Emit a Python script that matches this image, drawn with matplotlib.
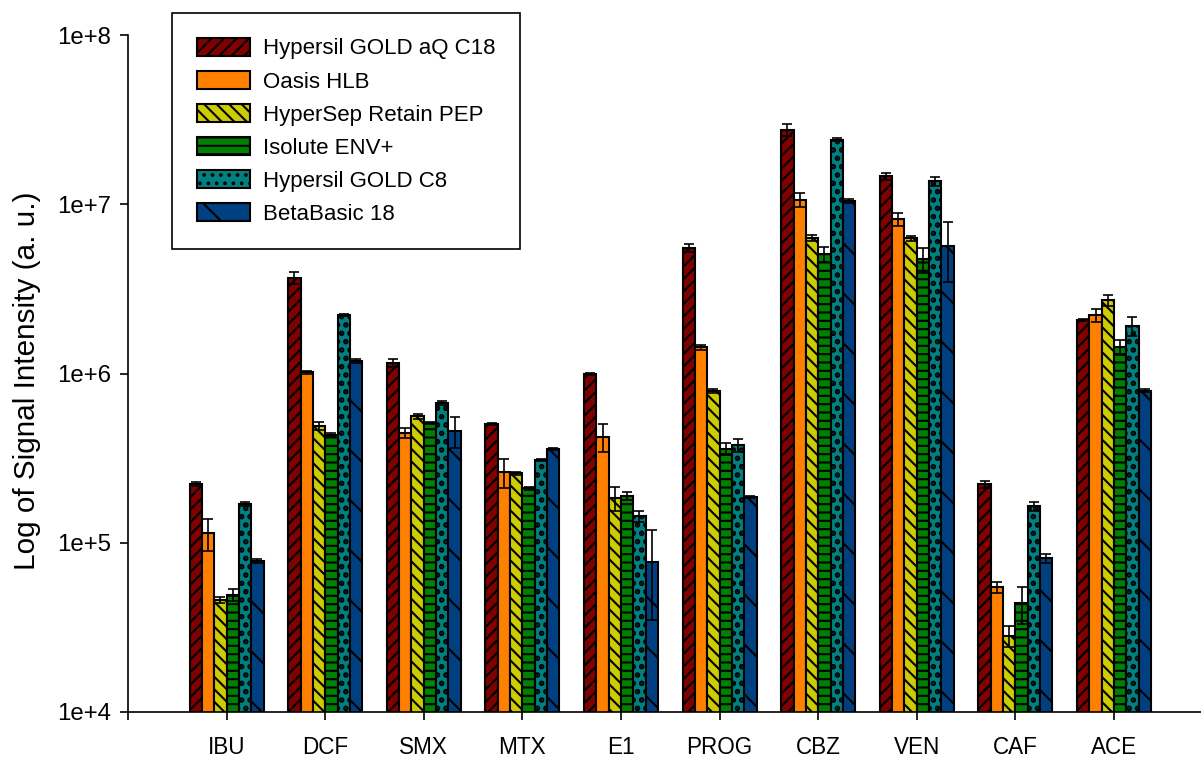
import numpy as np
import matplotlib
matplotlib.use("Agg")
import matplotlib.pyplot as plt
from matplotlib.ticker import FixedLocator, FuncFormatter, NullLocator

plt.rcParams['font.family'] = ['Liberation Sans', 'DejaVu Sans']
plt.rcParams['hatch.linewidth'] = 1.0

compounds = ["IBU", "DCF", "SMX", "MTX", "E1", "PROG", "CBZ", "VEN", "CAF", "ACE"]
sorbents = ["Hypersil GOLD aQ C18", "Oasis HLB", "HyperSep Retain PEP",
            "Isolute ENV+", "Hypersil GOLD C8", "BetaBasic 18"]

# mean signal per compound, one list per sorbent
aq_c18 = [2.22e5, 3.66e6, 1.15e6, 5.03e5, 9.93e5, 5.52e6, 2.75e7, 1.47e7, 2.22e5, 2.07e6]
oasis = [1.14e5, 1.02e6, 4.45e5, 2.62e5, 4.22e5, 1.43e6, 1.06e7, 8.18e6, 5.48e4, 2.22e6]
hypersep = [4.6e4, 4.9e5, 5.6e5, 2.58e5, 1.84e5, 7.88e5, 6.3e6, 6.3e6, 2.81e4, 2.72e6]
isolute = [4.9e4, 4.33e5, 5.1e5, 2.1e5, 1.89e5, 3.58e5, 5.08e6, 4.75e6, 4.4e4, 1.43e6]
gold_c8 = [1.69e5, 2.22e6, 6.7e5, 3.08e5, 1.44e5, 3.78e5, 2.4e7, 1.37e7, 1.65e5, 1.91e6]
betabasic = [7.8e4, 1.19e6, 4.57e5, 3.58e5, 7.7e4, 1.86e5, 1.05e7, 5.67e6, 8.13e4, 7.9e5]

# standard deviations
aq_c18_sd = [6e3, 3e5, 6e4, 8e3, 1.5e4, 3e5, 2.3e6, 7e5, 1e4, 3e4]
oasis_sd = [2.5e4, 2e4, 3e4, 5e4, 8e4, 5e4, 1e6, 7e5, 4e3, 2e5]
hypersep_sd = [2e3, 2.5e4, 2e4, 5e3, 3e4, 2e4, 2.5e5, 2e5, 4e3, 2e5]
isolute_sd = [4e3, 1.2e4, 1e4, 4e3, 1e4, 3e4, 5e5, 8e5, 1.1e4, 1.5e5]
gold_c8_sd = [4e3, 3e4, 1.5e4, 5e3, 1.1e4, 3.5e4, 5e5, 8e5, 1e4, 2.5e5]
betabasic_sd = [2e3, 3e4, 9.5e4, 5e3, 4.2e4, 3e3, 3e5, 2.2e6, 5e3, 1.5e4]

series = [aq_c18, oasis, hypersep, isolute, gold_c8, betabasic]
errors = [aq_c18_sd, oasis_sd, hypersep_sd, isolute_sd, gold_c8_sd, betabasic_sd]
colors = ["#800000", "#ff8000", "#cccc00", "#008000", "#008080", "#004080"]
hatches = ["////", "", "\\\\\\\\", "---", "...", "\\"]
hatch_lw = [1.0, 1.0, 1.0, 1.0, 1.8, 1.0]

W, H, DPI = 1201, 763, 150
fig = plt.figure(figsize=(W / DPI, H / DPI), dpi=DPI)
ax = fig.add_axes([128 / W, 1 - 712 / H, 1 - 128 / W, (712 - 35) / H])

x = np.arange(1, len(compounds) + 1)
w = 0.125
for i, (vals, errs) in enumerate(zip(series, errors)):
    pos = x + (i - 2.5) * w
    with plt.rc_context({'hatch.linewidth': hatch_lw[i]}):
        bars = ax.bar(pos, vals, width=w, color=colors[i], edgecolor="black", linewidth=1.0,
                      hatch=hatches[i], label=sorbents[i], zorder=2)
    for b in bars:
        if hasattr(b, "set_hatch_linewidth"):
            b.set_hatch_linewidth(hatch_lw[i])
    ax.errorbar(pos, vals, yerr=errs, fmt="none", ecolor="black", elinewidth=0.8,
                capsize=2.6, capthick=0.8, zorder=3)

ax.set_yscale("log")
ax.set_ylim(1e4, 1e8)
ax.set_xlim(0, (W - 128) / 98.6)
ax.yaxis.set_major_locator(FixedLocator([1e4, 1e5, 1e6, 1e7, 1e8]))
ax.yaxis.set_minor_locator(NullLocator())
ax.yaxis.set_major_formatter(FuncFormatter(lambda v, p: "1e+%d" % round(np.log10(v))))
ax.set_xticks(np.arange(0, len(compounds) + 1))
ax.set_xticklabels([""] + compounds)

for s in ["top", "right"]:
    ax.spines[s].set_visible(False)
for s in ["left", "bottom"]:
    ax.spines[s].set_linewidth(0.8)
ax.tick_params(axis="both", direction="out", length=4, width=0.8)
ax.tick_params(axis="y", pad=4, labelsize=11.5)
ax.tick_params(axis="x", pad=7.5, labelsize=10.8)

ax.set_ylabel("Log of Signal Intensity (a. u.)", fontsize=14.3)
ax.yaxis.set_label_coords(-0.081, 0.49)

leg = fig.legend(loc="upper left", bbox_to_anchor=(172 / W, 1 - 13 / H), borderaxespad=0,
                 fontsize=10.7, fancybox=False, edgecolor="black", framealpha=1,
                 handlelength=2.4, handleheight=0.9, handletextpad=0.6,
                 labelspacing=0.5, borderpad=1.1)
leg.get_frame().set_linewidth(0.8)

fig.savefig("out.png", dpi=DPI)
